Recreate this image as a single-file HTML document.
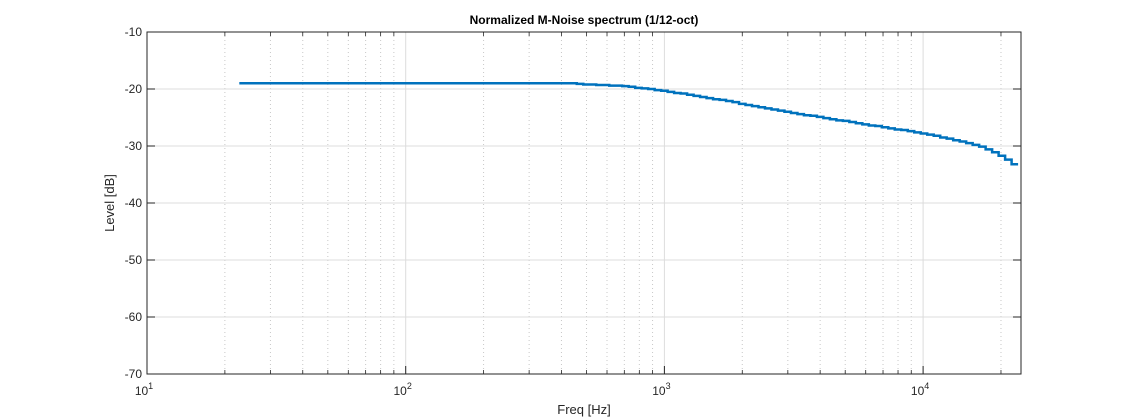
<!DOCTYPE html>
<html><head><meta charset="utf-8"><style>
body{margin:0;background:#fff;}
svg{display:block;font-family:"Liberation Sans",Arial,sans-serif;}
</style></head><body>
<svg id="chart" width="1128" height="419">
<rect width="1128" height="419" fill="#fff"/>
<rect x="147" y="32" width="874" height="342" fill="#fff"/>
<g id="grid"></g>
<g id="series"></g>
<rect x="147" y="32" width="874" height="342" fill="none" stroke="#262626" stroke-width="1"/>
<g id="ticks"></g>
<text x="584" y="24" text-anchor="middle" font-size="12" font-weight="bold" fill="#000">Normalized M-Noise spectrum (1/12-oct)</text>
<text x="584" y="414" text-anchor="middle" font-size="13" fill="#262626">Freq [Hz]</text>
<text transform="translate(114,203) rotate(-90)" text-anchor="middle" font-size="13" fill="#262626">Level [dB]</text>
</svg>
<script>
const yTicks=[-10,-20,-30,-40,-50,-60,-70];
const xDecades=[1,2,3,4];
const bandIndexStart=-65;
const levels=[
-19.0,-19.0,-19.0,-19.0,-19.0,-19.0,-19.0,-19.0,-19.0,-19.0,
-19.0,-19.0,-19.0,-19.0,-19.0,-19.0,-19.0,-19.0,-19.0,-19.0,
-19.0,-19.0,-19.0,-19.0,-19.0,-19.0,-19.0,-19.0,-19.0,-19.0,
-19.0,-19.0,-19.0,-19.0,-19.0,-19.0,-19.0,-19.0,-19.0,-19.0,
-19.0,-19.0,-19.0,-19.0,-19.0,-19.0,-19.0,-19.0,-19.0,-19.0,
-19.0,-19.0,
-19.1,-19.2,-19.2,-19.3,-19.3,-19.4,-19.4,-19.5,-19.6,-19.8,-19.9,-20.0,-20.2,
-20.3,-20.5,-20.7,-20.8,-21.0,-21.2,-21.4,-21.6,-21.8,-21.9,-22.1,-22.3,-22.6,
-22.8,-23.0,-23.2,-23.4,-23.6,-23.8,-24.0,-24.2,
-24.4,-24.6,-24.7,-24.9,-25.1,-25.3,-25.5,-25.6,-25.8,-26.0,
-26.2,-26.4,-26.5,-26.7,-26.9,-27.1,-27.2,-27.4,-27.6,-27.8,
-28.0,-28.2,-28.5,-28.7,-29.0,-29.2,
-29.5,-29.8,-30.1,-30.6,-31.1,-31.7,-32.4,-33.2];

const NS="http://www.w3.org/2000/svg";
const L=147,R=1021,T=32,B=374;
const xMinLog=1, decPx=258.7;
function xs(f){return L+(Math.log10(f)-xMinLog)*decPx;}
function ys(v){return T+(-10-v)/60*(B-T);}
function mk(tag,attrs,parent){const e=document.createElementNS(NS,tag);for(const k in attrs)e.setAttribute(k,attrs[k]);parent.appendChild(e);return e;}
const grid=document.getElementById('grid'),ticks=document.getElementById('ticks'),series=document.getElementById('series');

// minor x grid
for(let d=1;d<=4;d++){for(let m=2;m<=9;m++){const f=m*Math.pow(10,d);const x=xs(f);if(x>=R)continue;
 const g=mk('line',{x1:x,x2:x,y1:T,y2:B,stroke:'#c8c8c8','stroke-width':1,'stroke-dasharray':'1,3'},grid);
 
 
 const t1=mk('line',{x1:x,x2:x,y1:B,y2:B-4,stroke:'#262626','stroke-width':0.8},ticks);
 
 
 const t2=mk('line',{x1:x,x2:x,y1:T,y2:T+4,stroke:'#262626','stroke-width':0.8},ticks);
 
 
}}
// major x
xDecades.forEach(d=>{const x=xs(Math.pow(10,d));
 if(d>1){const g=mk('line',{x1:x,x2:x,y1:T,y2:B,stroke:'#dcdcdc','stroke-width':1},grid);
 
 }
 const t=mk('line',{x1:x,x2:x,y1:B,y2:B-8,stroke:'#262626','stroke-width':1},ticks);
 
 
 const tx=mk('text',{x:x-3,y:395,'text-anchor':'middle','font-size':12,fill:'#262626'},ticks);
 
 
 tx.textContent='10';
 const sup=mk('tspan',{dy:-6,'font-size':9},tx);sup.textContent=String(d);
});
// y grid and ticks
yTicks.forEach(v=>{const y=ys(v);
 if(v>-70&&v<-10){const g=mk('line',{x1:L,x2:R,y1:y,y2:y,stroke:'#dcdcdc','stroke-width':1},grid);
 
 }
 const t=mk('line',{x1:L,x2:L+8,y1:y,y2:y,stroke:'#262626','stroke-width':1},ticks);
 
 
 const t2=mk('line',{x1:R,x2:R-8,y1:y,y2:y,stroke:'#262626','stroke-width':1},ticks);
 
 
 const tx=mk('text',{x:L-5,y:y+4,'text-anchor':'end','font-size':12,fill:'#262626'},ticks);
 
 
 tx.textContent=String(v);
});
// stairs
let d='';
levels.forEach((v,i)=>{const k=bandIndexStart+i;const fc=1000*Math.pow(2,k/12);
 const x1=xs(fc*Math.pow(2,-1/24)),x2=xs(fc*Math.pow(2,1/24)),y=ys(v);
 d+=(i===0?'M':'L')+x1.toFixed(2)+','+y.toFixed(2)+'L'+x2.toFixed(2)+','+y.toFixed(2);
});
const p=mk('path',{d:d,fill:'none',stroke:'#0072BD','stroke-width':2.5},series);


</script>
</body></html>
